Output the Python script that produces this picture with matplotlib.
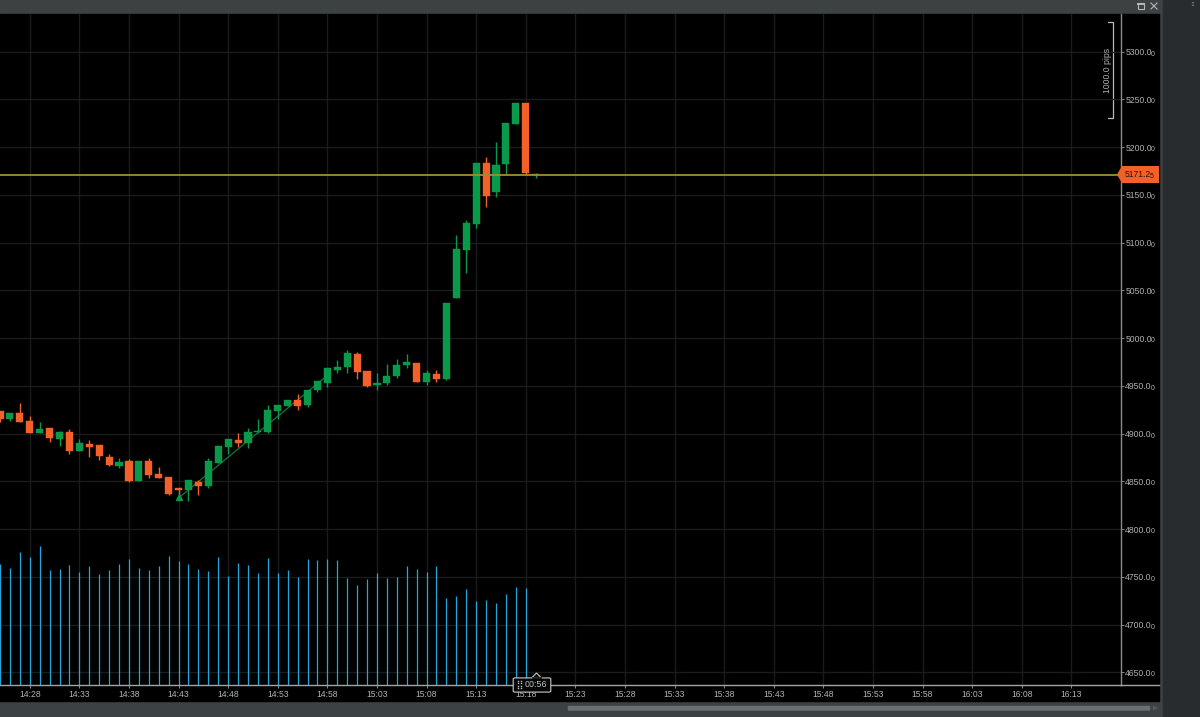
import matplotlib
matplotlib.use("Agg")
import matplotlib.pyplot as plt
import matplotlib.patches as patches
from matplotlib.lines import Line2D

plt.rcParams['font.family'] = ['Liberation Sans', 'DejaVu Sans']

first_minute = 14 * 60 + 25

opens = [4923.7, 4915.4, 4921.3, 4913.3, 4900.3, 4905.6, 4894.4, 4901.4, 4882.2, 4889.2,
         4888.1, 4875.9, 4866.5, 4871.0, 4850.1, 4871.0, 4857.8, 4854.6, 4843.1, 4840.6,
         4849.7, 4845.2, 4869.3, 4886.4, 4893.4, 4890.2, 4901.4, 4902.1, 4923.7, 4929.0,
         4934.9, 4930.0, 4945.7, 4953.1, 4966.3, 4969.8, 4983.4, 4965.3, 4951.3, 4953.4,
         4960.7, 4972.3, 4974.0, 4954.1, 4962.5, 4957.6, 5041.7, 5092.0, 5119.9, 5183.4,
         5153.4, 5182.4, 5224.6, 5245.9, 5171.2]
highs = [4923.7, 4921.3, 4931.8, 4918.5, 4912.6, 4905.6, 4902.8, 4904.5, 4894.1, 4893.4,
         4888.1, 4878.7, 4874.2, 4873.1, 4871.7, 4874.2, 4864.7, 4854.6, 4843.1, 4851.1,
         4851.5, 4874.2, 4887.4, 4894.4, 4900.3, 4905.6, 4915.0, 4930.0, 4930.0, 4934.9,
         4941.5, 4946.1, 4954.8, 4968.4, 4977.2, 4987.6, 4985.9, 4965.3, 4963.9, 4973.0,
         4978.2, 4983.4, 4974.0, 4966.7, 4966.7, 5036.8, 5108.0, 5123.8, 5183.4, 5189.4,
         5205.1, 5225.0, 5246.6, 5245.9, 5172.6]
lows = [4912.6, 4913.6, 4912.6, 4900.3, 4900.3, 4891.6, 4887.4, 4879.0, 4882.2, 4875.2,
        4872.8, 4866.1, 4864.4, 4849.4, 4850.1, 4853.6, 4853.6, 4836.1, 4835.8, 4829.5,
        4836.1, 4843.4, 4869.3, 4878.7, 4886.4, 4885.0, 4900.3, 4900.4, 4915.0, 4929.0,
        4924.8, 4928.3, 4944.0, 4949.2, 4963.2, 4963.9, 4956.9, 4948.9, 4945.7, 4951.0,
        4958.6, 4969.1, 4954.1, 4951.0, 4954.5, 4956.2, 5041.7, 5068.6, 5115.7, 5137.7,
        5148.2, 5171.9, 5224.6, 5171.2, 5168.1]
closes = [4915.4, 4921.3, 4912.6, 4900.3, 4904.5, 4895.5, 4901.4, 4881.8, 4889.9, 4886.4,
          4876.3, 4867.5, 4870.0, 4850.8, 4871.7, 4856.7, 4853.6, 4837.2, 4840.6, 4851.1,
          4845.2, 4871.0, 4887.4, 4894.4, 4889.9, 4902.1, 4902.8, 4924.8, 4930.0, 4934.9,
          4929.0, 4946.1, 4954.8, 4968.4, 4969.5, 4984.1, 4964.9, 4949.9, 4953.1, 4960.7,
          4971.9, 4974.7, 4954.1, 4963.5, 4957.6, 5036.8, 5093.4, 5120.3, 5183.4, 5149.2,
          5181.7, 5225.0, 5245.9, 5172.6, 5171.25]
volumes = [121.3, 117.3, 132.7, 128.0, 138.7, 114.7, 115.7, 119.7, 113.0, 119.0,
           110.7, 114.7, 121.3, 126.0, 117.3, 114.7, 119.0, 128.7, 124.0, 121.3,
           116.3, 114.0, 127.7, 109.0, 122.3, 119.7, 112.3, 127.0, 112.3, 114.7,
           108.0, 126.0, 125.3, 126.3, 124.7, 107.3, 99.7, 106.3, 112.3, 107.3,
           108.0, 118.7, 115.7, 113.0, 118.7, 87.3, 89.0, 95.7, 84.0, 85.0,
           81.7, 90.7, 98.0, 96.7]

time_labels = ["14:28", "14:33", "14:38", "14:43", "14:48", "14:53", "14:58", "15:03",
               "15:08", "15:13", "15:18", "15:23", "15:28", "15:33", "15:38", "15:43",
               "15:48", "15:53", "15:58", "16:03", "16:08", "16:13"]
price_levels = [4650, 4700, 4750, 4800, 4850, 4900, 4950, 5000, 5050, 5100, 5150, 5200,
                5250, 5300]

trend_minutes = ["14:43", "14:58"]
trend_prices = [4832.6, 4961.0]
marker_price = 4834.0
last_price = 5171.25


def to_minute(label):
    h, m = label.split(":")
    return int(h) * 60 + int(m) - first_minute


W, H = 1200, 717
PANEL_GRAY = "#3c4143"
GRID = "#191b1c"
TEXT = "#b0b2b2"
GREEN = "#08994a"
ORANGE = "#f4602a"
BLUE = "#22a7dc"


def fx(x):
    return x / W


def fy(y):
    return 1 - y / H


def fig_line(xs, ys, **kw):
    fig.add_artist(Line2D([fx(v) for v in xs], [fy(v) for v in ys], **kw))


fig = plt.figure(figsize=(12, 7.17), dpi=100)
fig.patch.set_facecolor(PANEL_GRAY)

# window chrome
fig.add_artist(patches.Rectangle((fx(1163), 0), fx(37), 1, color="#292c2e", zorder=0))
fig.add_artist(patches.Rectangle((0, fy(701)), fx(1159), fy(14) - fy(701), color="#000000", zorder=0))

ax = fig.add_axes([0, fy(685), fx(1121), fy(14) - fy(685)])
ax.set_facecolor("none")
ax.set_xlim(0, 1121 / 9.92)
ax.set_ylim(4636.8, 5339.5)

minutes = list(range(len(opens)))

# volumes sit on their own scale, above the grid of the price axes
ax_vol = ax.twinx()
ax_vol.set_ylim(0, 671)
ax_vol.axis('off')
ax_vol.set_zorder(3)
ax.set_zorder(2)
ax_vol.vlines(minutes[:len(volumes)], 0, volumes, color=BLUE, linewidth=0.9)
ax.set_xlim(0, 1121 / 9.92)

ax.set_xticks([to_minute(t) for t in time_labels])
ax.set_xticklabels(time_labels)
ax.set_yticks(price_levels)
ax.set_yticklabels([f"{p}.0" for p in price_levels])
ax.yaxis.tick_right()
ax.grid(True, color=GRID, linewidth=1.0)
ax.set_axisbelow(True)
ax.tick_params(axis='x', colors=TEXT, labelsize=6.2, length=2, width=0.6, pad=1.5, color="#9a9a9a")
ax.tick_params(axis='y', colors=TEXT, labelsize=6.2, length=2, width=0.6, pad=1, color="#9a9a9a")
for side in ['top', 'left']:
    ax.spines[side].set_visible(False)
ax.spines['right'].set_color("#8a8c8c")
ax.spines['bottom'].set_color("#a4a6a6")
ax.spines['right'].set_linewidth(1.0)
ax.spines['bottom'].set_linewidth(1.0)
fig_line([1121, 1159], [685, 685], color="#a4a6a6", linewidth=1.0)

# smaller last digit on the price labels
for p in price_levels:
    ax.annotate("0", (1, p), xycoords=ax.get_yaxis_transform(), xytext=(21.5, -1.8),
                textcoords='offset points', fontsize=5, color=TEXT, va='center', ha='left')

# candles
for i in minutes:
    up = closes[i] >= opens[i]
    c = GREEN if up else ORANGE
    ax.vlines(i, lows[i], highs[i], color=c, linewidth=1.0, zorder=3)
    bottom = min(opens[i], closes[i])
    height = max(abs(closes[i] - opens[i]), 0.6)
    ax.bar(i, height, bottom=bottom, width=0.72, color=c, edgecolor=c, linewidth=0.3, zorder=4)

# trend line and entry marker
ax.plot([to_minute(t) for t in trend_minutes], trend_prices, color="#0b7a3c", linewidth=0.9, zorder=2)
ax.plot([to_minute(trend_minutes[0])], [marker_price], marker='^', markersize=5,
        color=GREEN, linestyle='none', zorder=5)

# last price line
ax.axhline(last_price, color="#9a8f35", linewidth=1.3, zorder=5)

# price tag
tag = patches.Polygon([(fx(1117), fy(174.5)), (fx(1122), fy(166)), (fx(1159), fy(166)),
                       (fx(1159), fy(183)), (fx(1122), fy(183))],
                      closed=True, facecolor=ORANGE, edgecolor="none", zorder=6)
fig.add_artist(tag)
fig.text(fx(1124.5), fy(174.5), "5171.2", fontsize=6.2, color="#2b1208", va='center', ha='left', zorder=7)
fig.text(fx(1150), fy(176), "5", fontsize=5, color="#2b1208", va='center', ha='left', zorder=7)

# 1000 pips bracket
fig_line([1108, 1113, 1113, 1108], [22, 22, 118, 118], color="#b8baba", linewidth=0.9)
fig.text(fx(1107), fy(70), "1000.0 pips", rotation=90, fontsize=6.2, color=TEXT, ha='center', va='center')

# countdown box
box = patches.FancyBboxPatch((fx(515), fy(691)), fx(34), fy(679) - fy(691),
                             boxstyle="round,pad=0.0015", transform=fig.transFigure,
                             facecolor="#060606", edgecolor="#c8c8c8", linewidth=0.8, zorder=8)
fig.add_artist(box)
fig.add_artist(patches.Polygon([(fx(532), fy(677.5)), (fx(536.5), fy(673)), (fx(541), fy(677.5))],
                               closed=True, facecolor="#060606", edgecolor="#c8c8c8", linewidth=0.8, zorder=8))
fig_line([532.5, 540.5], [678, 678], color="#060606", linewidth=1.2, zorder=9)
fig.text(fx(536), fy(684.5), "00:56", fontsize=6.4, color="#c4c6c6", ha='center', va='center', zorder=9)
for gy in [680.5, 683, 685.5, 688]:
    fig_line([517.5, 520.5], [gy, gy], color="#c0c0c0", linewidth=0, marker='s', markersize=1.0,
             markeredgewidth=0, zorder=9)

# scrollbar
fig.add_artist(patches.FancyBboxPatch((fx(569), fy(710)), fx(580), fy(706.5) - fy(710),
                                      boxstyle="round,pad=0.001", transform=fig.transFigure,
                                      facecolor="#6a6f71", edgecolor="none", zorder=3))
fig.add_artist(patches.Polygon([(fx(1153), fy(705.5)), (fx(1158), fy(708)), (fx(1153), fy(710.5))],
                               closed=True, facecolor="#565a5c", edgecolor="none", zorder=3))

# window buttons
fig.add_artist(patches.Rectangle((fx(1138), fy(8.5)), fx(6), fy(3) - fy(8.5), fill=False,
                                 edgecolor="#b5b8b8", linewidth=0.8))
fig_line([1138, 1144], [3.5, 3.5], color="#b5b8b8", linewidth=1.4)
fig_line([1151, 1157], [3, 9], color="#b5b8b8", linewidth=0.8)
fig_line([1151, 1157], [9, 3], color="#b5b8b8", linewidth=0.8)
fig_line([1193, 1193], [2, 7], color="#6d6f70", linewidth=1.6, linestyle=(0, (0.6, 0.6)))

fig.savefig("out.png", dpi=100, facecolor=fig.get_facecolor())
